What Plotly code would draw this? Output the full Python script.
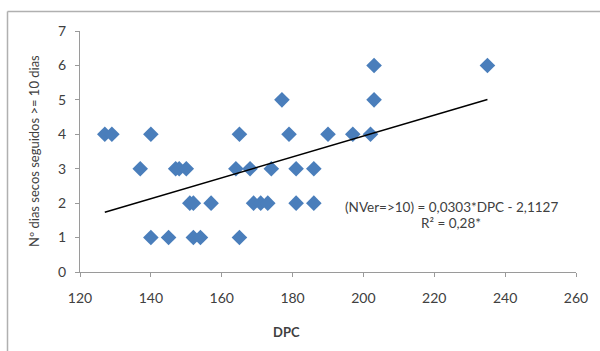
import plotly.graph_objects as go

# Data
dpc = [127, 129, 140, 165, 179, 190, 197, 202,
       177, 203,
       203, 235,
       137, 147, 148, 150, 164, 168, 174, 181, 186,
       151, 152, 157, 169, 171, 173, 181, 186,
       140, 145, 152, 154, 165]
ndias = [4, 4, 4, 4, 4, 4, 4, 4,
         5, 5,
         6, 6,
         3, 3, 3, 3, 3, 3, 3, 3, 3,
         2, 2, 2, 2, 2, 2, 2, 2,
         1, 1, 1, 1, 1]

slope = 0.0303
intercept = -2.1127
trend_x = [min(dpc), max(dpc)]
trend_y = [slope * v + intercept for v in trend_x]

x_ticks = [120, 140, 160, 180, 200, 220, 240, 260]
y_ticks = [0, 1, 2, 3, 4, 5, 6, 7]

FONT = "Lato"
TXT = "#404040"

fig = go.Figure()
fig.add_trace(go.Scatter(
    x=dpc, y=ndias, mode="markers",
    marker=dict(symbol="diamond", size=12, color="#4a7ebb", line=dict(width=0)),
    showlegend=False, hoverinfo="x+y"))
fig.add_trace(go.Scatter(
    x=trend_x, y=trend_y, mode="lines",
    line=dict(color="black", width=1.5), showlegend=False))

axis_common = dict(showgrid=False, zeroline=False, showline=True,
                   linecolor="#9a9a9a", linewidth=1, ticks="outside",
                   tickcolor="#9a9a9a", ticklen=4,
                   tickfont=dict(family=FONT, size=14, color=TXT))

fig.update_xaxes(range=[120, 260], tickvals=x_ticks, ticklabelstandoff=9, **axis_common)
fig.update_yaxes(range=[0, 7], tickvals=y_ticks, ticklabelstandoff=6, **axis_common)

PW, PH = 496, 241  # plot area size in px
def px(xp):
    return (xp - 80) / PW
def py(yp):
    return (272 - yp) / PH

border = dict(color="#b0b0b0", width=1.5)
fig.update_layout(
    width=600, height=351,
    margin=dict(l=80, r=24, t=31, b=79),
    plot_bgcolor="white", paper_bgcolor="white",
    font=dict(family=FONT, color=TXT),
    shapes=[
        dict(type="line", xref="paper", yref="paper",
             x0=px(7.5), x1=px(600), y0=py(11.5), y1=py(11.5), line=border),
        dict(type="line", xref="paper", yref="paper",
             x0=px(7.5), x1=px(7.5), y0=py(11.5), y1=py(351), line=border),
    ],
    annotations=[
        dict(text="Nº dias secos seguidos >= 10 dias", xref="paper", yref="paper",
             x=px(34), y=py(151), textangle=-90, showarrow=False,
             font=dict(family=FONT, size=13, color=TXT), xanchor="center", yanchor="middle"),
        dict(text="<b>DPC</b>", xref="paper", yref="paper",
             x=px(286), y=py(332), showarrow=False,
             font=dict(family=FONT, size=13, color=TXT), xanchor="center", yanchor="middle"),
        dict(text="(NVer=>10) = 0,0303*DPC - 2,1127",
             xref="paper", yref="paper",
             x=px(451), y=py(207), showarrow=False,
             font=dict(family=FONT, size=13.5, color=TXT), xanchor="center", yanchor="middle"),
        dict(text="R² = 0,28*",
             xref="paper", yref="paper",
             x=px(451), y=py(223), showarrow=False,
             font=dict(family=FONT, size=13.5, color=TXT), xanchor="center", yanchor="middle"),
    ],
)

fig.write_html("out.html", config={"displayModeBar": False},
               post_script="document.body.style.margin='0';document.body.style.overflow='hidden';")
